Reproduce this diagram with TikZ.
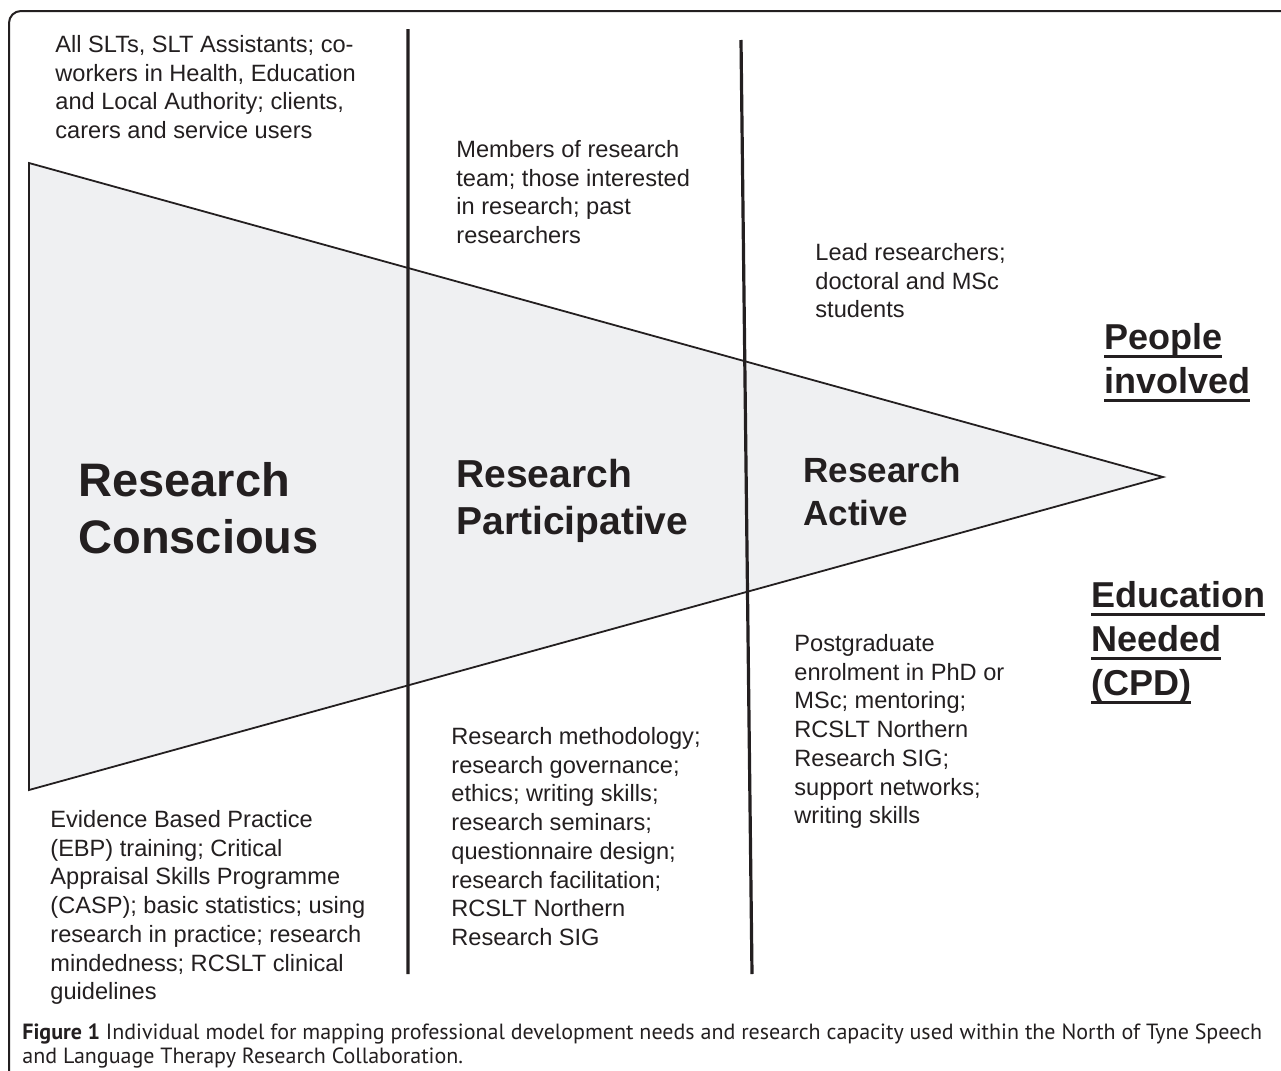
\documentclass[tikz,border=0pt]{standalone}
\usepackage{fontspec}
\setmainfont{Liberation Sans}
\newfontfamily\capfont{PT Sans}
\newsavebox{\ulbox}
\newcommand{\ulword}[1]{\sbox{\ulbox}{#1}\rlap{\usebox{\ulbox}}\rule[-4.2pt]{\wd\ulbox}{1.3pt}}
\definecolor{wedge}{HTML}{EFF0F2}
\definecolor{ink}{HTML}{231F20}

\begin{document}
\begin{tikzpicture}
  [x=0.5pt,y=-0.5pt,every node/.style={inner sep=0pt,anchor=north west,align=left,text=ink}]

  \tikzstyle{listtext} = [font=\fontsize{11.8}{14.35}\selectfont]
  \tikzstyle{heading} = [font=\fontsize{18}{22}\selectfont\bfseries]
  \tikzstyle{caption} = [font=\capfont\fontsize{11}{12}\selectfont]

  \useasboundingbox (0,0) rectangle (1281,1071);

  % frame
  \draw[ink,line width=1pt,rounded corners=6pt] (9,1080) -- (9,11) -- (1290,11);

  % wedge
  \coordinate (top)    at (29,163);
  \coordinate (bottom) at (29,790);
  \coordinate (tip)    at (1163,477);
  \draw[ink,fill=wedge,line width=0.9pt] (top) -- (tip) -- (bottom) -- cycle;

  % dividers
  \coordinate (d1a) at (408,29);
  \coordinate (d1b) at (408,974);
  \coordinate (d2a) at (741,40);
  \coordinate (d2b) at (752,974);
  \draw[ink,line width=1.6pt] (d1a) -- (d1b) (d2a) -- (d2b);

  % people involved
  \node[listtext] (people1) at (55,35)
    {All SLTs, SLT Assistants; co-\\workers in Health, Education\\and Local Authority; clients,\\carers and service users};
  \node[listtext] (people2) at (456,140)
    {Members of research\\team; those interested\\in research; past\\researchers};
  \node[listtext] (people3) at (815,243)
    {Lead researchers;\\doctoral and MSc\\students};

  % stages
  \node[font=\fontsize{23.5}{28.5}\selectfont\bfseries] (stage1) at (78,462)
    {Research\\Conscious};
  \node[font=\fontsize{19.5}{23.5}\selectfont\bfseries] (stage2) at (456,459)
    {Research\\Participative};
  \node[font=\fontsize{17.5}{21.5}\selectfont\bfseries] (stage3) at (803,457)
    {Research\\Active};

  % headings
  \node[heading] (peoplehead) at (1104,323) {\ulword{People}\\\ulword{involved}};
  \node[heading] (eduhead) at (1091,581) {\ulword{Education}\\\ulword{Needed}\\\ulword{(CPD)}};

  % education needed
  \node[listtext] (edu1) at (50,810)
    {Evidence Based Practice\\(EBP) training; Critical\\Appraisal Skills Programme\\(CASP); basic statistics; using\\research in practice; research\\mindedness; RCSLT clinical\\guidelines};
  \node[listtext] (edu2) at (451,727)
    {Research methodology;\\research governance;\\ethics; writing skills;\\research seminars;\\questionnaire design;\\research facilitation;\\RCSLT Northern\\Research SIG};
  \node[listtext] (edu3) at (794,634)
    {Postgraduate\\enrolment in PhD or\\MSc; mentoring;\\RCSLT Northern\\Research SIG;\\support networks;\\writing skills};

  % caption
  \node[caption] (figcap) at (22,1023)
    {\textbf{Figure 1} Individual model for mapping professional development needs and research capacity used within the North of Tyne Speech\\and Language Therapy Research Collaboration.};
\end{tikzpicture}
\end{document}
